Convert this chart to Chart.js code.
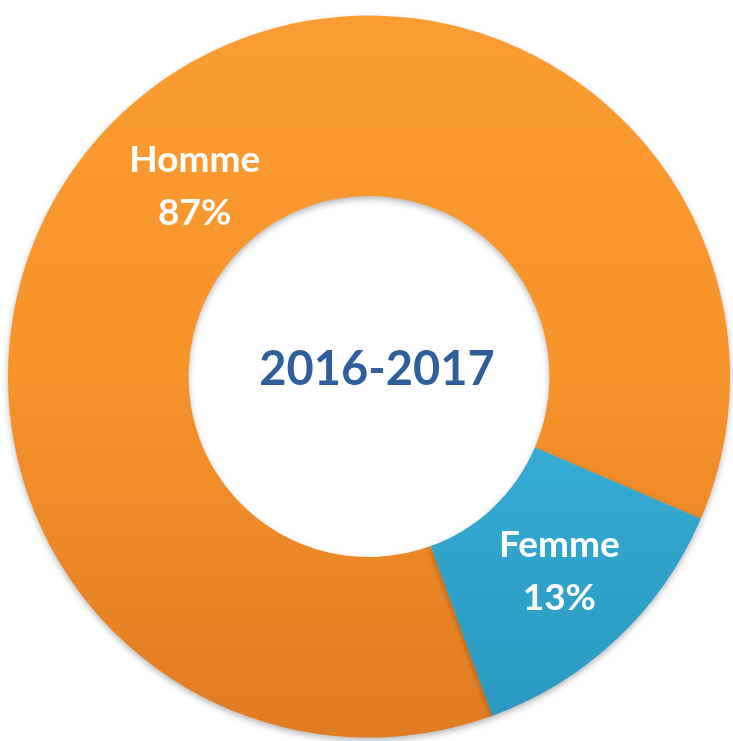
<!DOCTYPE html>
<html>
<head>
<meta charset="utf-8">
<script src="https://cdn.jsdelivr.net/npm/chart.js@4.4.1/dist/chart.umd.min.js"></script>
<style>
  html, body { margin: 0; padding: 0; background: #ffffff; }
  #wrap { width: 733px; height: 741px; }
</style>
</head>
<body>
<div id="wrap"><canvas id="chart"></canvas></div>
<script>
const categories = ['Homme', 'Femme'];
const parts = [87, 13];
const centerTitle = '2016-2017';

const fontFamily = 'Lato, "Open Sans", sans-serif';

// couleurs avec un léger dégradé vertical
function sliceColor(context) {
    const chart = context.chart;
    const area = chart.chartArea;
    if (!area) return null;
    const g = chart.ctx.createLinearGradient(0, area.top, 0, area.bottom);
    if (context.dataIndex === 0) {
        g.addColorStop(0, '#fa9d32');
        g.addColorStop(0.5, '#f7932b');
        g.addColorStop(1, '#df7b22');
    } else {
        g.addColorStop(0, '#40b9e2');
        g.addColorStop(0.5, '#38afd8');
        g.addColorStop(1, '#2a98bf');
    }
    return g;
}

const shadowPlugin = {
    id: 'shadow',
    beforeDatasetsDraw(chart) {
        const c = chart.ctx;
        c.save();
        c.shadowColor = 'rgba(0,0,0,0.28)';
        c.shadowBlur = 6;
        c.shadowOffsetY = 3;
    },
    afterDatasetsDraw(chart) {
        chart.ctx.restore();
    }
};

const labelPlugin = {
    id: 'sliceLabels',
    afterDraw(chart) {
        const c = chart.ctx;
        const meta = chart.getDatasetMeta(0);
        const values = chart.data.datasets[0].data;
        const total = values.reduce((a, b) => a + b, 0);
        c.save();
        c.textAlign = 'center';
        c.textBaseline = 'middle';
        meta.data.forEach((arc, i) => {
            const p = arc.getProps(['x', 'y', 'startAngle', 'endAngle', 'innerRadius', 'outerRadius'], true);
            const mid = (p.startAngle + p.endAngle) / 2;
            const r = p.innerRadius + (p.outerRadius - p.innerRadius) * 0.47;
            const x = p.x + Math.cos(mid) * r + 8;
            const y = p.y + Math.sin(mid) * r + 2;
            c.fillStyle = '#ffffff';
            c.font = 'bold 37px ' + fontFamily;
            c.fillText(chart.data.labels[i], x, y - 26);
            c.fillText(Math.round(values[i] / total * 100) + '%', x, y + 27);
        });
        // titre au centre
        const x0 = meta.data[0].x;
        const y0 = meta.data[0].y;
        c.fillStyle = '#2f5f9a';
        c.font = 'bold 47px ' + fontFamily;
        c.fillText(centerTitle, x0 + 8, y0 - 7);
        c.restore();
    }
};

new Chart(document.getElementById('chart'), {
    type: 'doughnut',
    data: {
        labels: categories,
        datasets: [{
            data: parts,
            backgroundColor: sliceColor,
            borderWidth: 0
        }]
    },
    options: {
        responsive: true,
        maintainAspectRatio: false,
        animation: false,
        cutout: '50%',
        rotation: 160,
        layout: {
            padding: { left: 8, right: 3, top: 14, bottom: 2 }
        },
        plugins: {
            legend: { display: false },
            tooltip: { enabled: false }
        }
    },
    plugins: [shadowPlugin, labelPlugin]
});
</script>
</body>
</html>
